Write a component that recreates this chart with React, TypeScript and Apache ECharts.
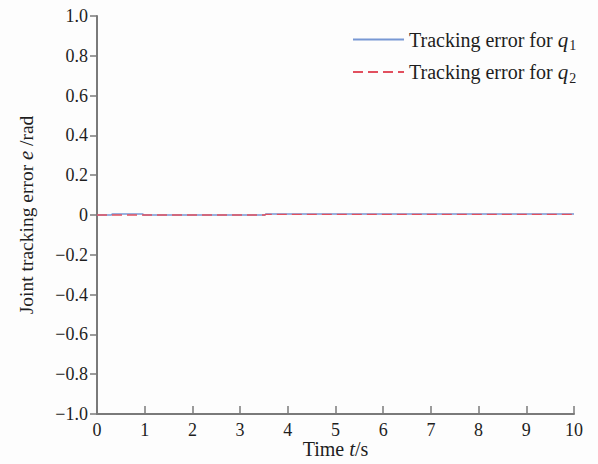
import React, { useEffect, useRef } from "react";
import * as echarts from "echarts";

const q1Time = [0, 0.3, 0.32, 0.96, 0.98, 3.52, 3.54, 10];
const q1Error = [0, 0, 0.005, 0.005, 0, 0, 0.005, 0.005];
const q2Time = [0, 3.52, 3.54, 10];
const q2Error = [0, 0, 0.003, 0.003];
const yTicks = [-1, -0.8, -0.6, -0.4, -0.2, 0, 0.2, 0.4, 0.6, 0.8, 1];

const FONT = "Liberation Serif";
const TXT = "#1e1e1e";
const AX = "#7a7a7a";

export default function App() {
  const ref = useRef<HTMLDivElement>(null);
  useEffect(() => {
    if (!ref.current) return;
    const chart = echarts.init(ref.current, undefined, { renderer: "svg" });
    const axisLine = { onZero: false, lineStyle: { color: AX, width: 2 } };
    chart.setOption({
      animation: false,
      backgroundColor: "#fdfdfd",
      textStyle: { fontFamily: FONT },
      grid: {
        left: 97,
        right: 24,
        top: 16,
        bottom: 50,
        containLabel: false,
        outerBoundsMode: "none",
      },
      legend: {
        orient: "vertical",
        left: 352,
        top: 29,
        padding: 0,
        itemWidth: 51,
        itemHeight: 14,
        itemGap: 9,
        itemStyle: { opacity: 0 },
        textStyle: {
          fontFamily: FONT,
          fontSize: 20,
          color: TXT,
          rich: {
            n: { fontFamily: FONT, fontSize: 20, color: TXT },
            q: { fontFamily: FONT, fontSize: 21, fontStyle: "italic", color: TXT },
            s: { fontFamily: FONT, fontSize: 14, color: TXT, padding: [12, 0, 0, 1] },
          },
        },
        formatter: (name: string) =>
          name === "q1"
            ? "{n|Tracking error for }{q|q}{s|1}"
            : "{n|Tracking error for }{q|q}{s|2}",
        data: ["q1", "q2"],
      },
      xAxis: {
        type: "value",
        min: 0,
        max: 10,
        interval: 1,
        axisLine,
        axisTick: { inside: true, length: 8, lineStyle: { color: AX, width: 1.5 } },
        splitLine: { show: false },
        axisLabel: { fontFamily: FONT, fontSize: 18, color: TXT, margin: 7 },
        name: "{n|Time }{i|t}{n|/s}",
        nameLocation: "middle",
        nameGap: 24,
        nameMoveOverlap: false,
        nameTextStyle: {
          rich: {
            n: { fontFamily: FONT, fontSize: 20, color: TXT, lineHeight: 22 },
            i: { fontFamily: FONT, fontSize: 21, fontStyle: "italic", color: TXT, lineHeight: 22 },
          },
        },
      },
      yAxis: {
        type: "value",
        min: -1,
        max: 1,
        interval: 0.2,
        axisLine,
        axisTick: { inside: false, length: 7, lineStyle: { color: AX, width: 1.5 } },
        splitLine: { show: false },
        axisLabel: {
          fontFamily: FONT,
          fontSize: 18,
          color: TXT,
          margin: 9,
          formatter: (v: number) => {
            const t = yTicks.find((y) => Math.abs(y - v) < 1e-9);
            const val = t === undefined ? v : t;
            if (Math.abs(val) < 1e-9) return "0";
            return val.toFixed(1).replace("-", "\u2212");
          },
        },
        name: "{n|Joint tracking error }{i|e}{n| /rad}",
        nameLocation: "middle",
        nameGap: 61,
        nameTextStyle: {
          rich: {
            n: { fontFamily: FONT, fontSize: 19.5, color: TXT },
            i: { fontFamily: FONT, fontSize: 20.5, fontStyle: "italic", color: TXT },
          },
        },
      },
      series: [
        {
          name: "q1",
          type: "line",
          showSymbol: false,
          symbol: "none",
          data: q1Time.map((t, i) => [t, q1Error[i]]),
          lineStyle: { color: "#7898d4", width: 1.6 },
          itemStyle: { color: "#7898d4" },
        },
        {
          name: "q2",
          type: "line",
          showSymbol: false,
          symbol: "none",
          data: q2Time.map((t, i) => [t, q2Error[i]]),
          lineStyle: { color: "#e2505f", width: 1.4, type: [10, 5] },
          itemStyle: { color: "#e2505f" },
        },
      ],
    });
    return () => chart.dispose();
  }, []);
  return <div ref={ref} style={{ width: 598, height: 464, position: "absolute", left: 0, top: 0 }} />;
}
